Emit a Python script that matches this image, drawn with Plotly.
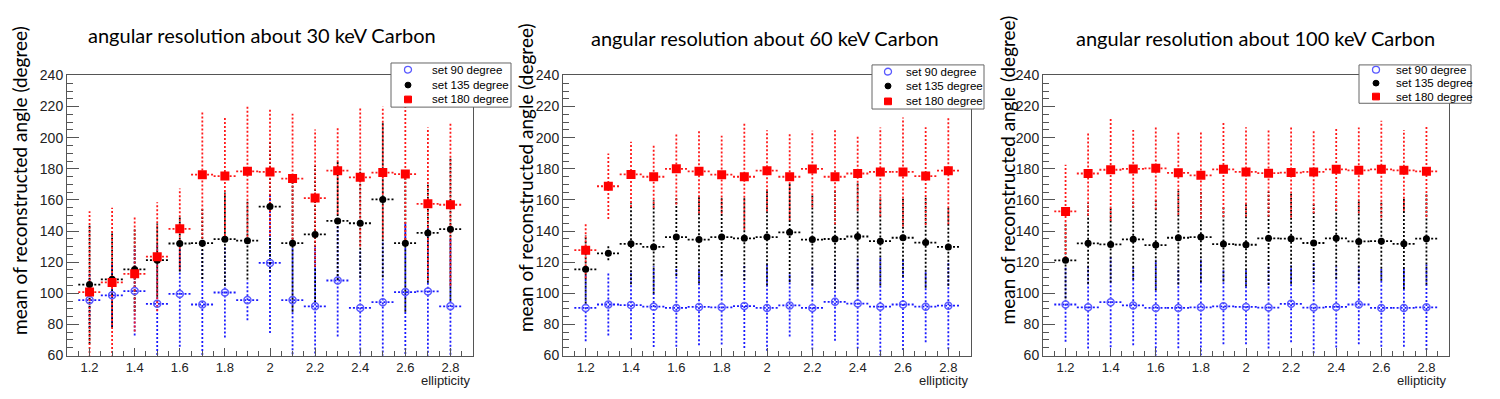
import plotly.graph_objects as go

# ellipticity bins, same for all three panels
ellipticity = [1.2, 1.3, 1.4, 1.5, 1.6, 1.7, 1.8, 1.9, 2.0, 2.1, 2.2, 2.3, 2.4, 2.5, 2.6, 2.7, 2.8]
XERR = 0.05

# 30 keV Carbon
mean90_30 = [95.6, 98.7, 101.4, 93.2, 99.6, 92.8, 100.5, 95.6, 119.5, 95.6, 91.6, 108.2, 90.6, 94.3, 100.8, 101.2, 91.6]
err90_30 = [18, 20, 28.5, 38, 34, 35, 29, 13, 45, 40, 38, 36, 37, 40, 45, 42, 44]
mean135_30 = [105.6, 109, 115.3, 121.3, 132, 132.2, 134.8, 133.8, 155.7, 132.2, 137.8, 146.5, 145, 160.3, 132.2, 138.8, 141.2]
err135_30 = [38, 31, 27, 23.5, 18, 23, 30, 25, 42, 44, 44, 38, 35, 50, 44, 32, 46]
mean180_30 = [100.8, 107, 112.5, 123.5, 141.4, 176.2, 175.3, 178.4, 178, 173.7, 161.2, 178.8, 174.5, 177.6, 176.6, 157.5, 156.9]
err180_30 = [52, 48, 37, 35, 26, 41, 38.5, 42, 41, 41.7, 44, 28, 44.5, 42.5, 45, 49, 52]

# 60 keV Carbon
mean90_60 = [90.6, 92.8, 92.4, 91.4, 90.6, 91.2, 91, 91.8, 90.6, 92.2, 90.6, 94.5, 93.4, 91.4, 92.8, 91.4, 92]
err90_60 = [21.5, 20, 22, 26, 25, 24.6, 24, 27, 27.6, 20, 26.7, 25, 29, 31.5, 29.3, 22.8, 28]
mean135_60 = [115.4, 125.7, 131.8, 129.8, 136.1, 134.5, 136.1, 135.3, 136.1, 139.2, 134.5, 134.9, 136.5, 133.5, 135.7, 132.6, 129.8]
err135_60 = [22, 4.5, 26, 30, 25, 28, 25, 27, 31, 32, 29.5, 32, 34, 28.5, 25, 29, 25]
mean180_60 = [127.7, 168.8, 176.4, 174.9, 180, 178.4, 176.2, 174.9, 178.8, 174.9, 179.9, 174.9, 177, 178, 178, 175.3, 178.8]
err180_60 = [18, 21, 21, 20, 23, 27, 25, 34, 26, 28, 24.6, 30.6, 24, 28.5, 35, 31.4, 34.5]

# 100 keV Carbon
mean90_100 = [92.8, 91, 94.3, 92.2, 90.6, 90.6, 91, 91.6, 91.2, 90.8, 93.2, 90.8, 91.2, 92.8, 90.6, 90.6, 91]
err90_100 = [24, 26.5, 29, 25.6, 31, 26, 31, 24.4, 24, 26.3, 24.6, 29.4, 26, 25.6, 25, 25, 27.5]
mean135_100 = [121.2, 132.1, 131.4, 134.7, 131, 135.7, 136.1, 131.6, 131.2, 135.3, 135.1, 132.3, 135.3, 133.3, 133.5, 131.8, 135.1]
err135_100 = [24.5, 26, 24.5, 26, 29, 30, 29, 24, 26.7, 30, 29, 25, 26, 27, 25.5, 29, 29.4]
mean180_100 = [152.6, 177, 179.4, 179.9, 180.3, 177.4, 175.8, 179.7, 178, 177.2, 177.6, 178, 179.7, 179, 179.7, 179, 178.4]
err180_100 = [30, 27, 33, 25, 26.5, 27, 27.7, 30.6, 28.7, 27.9, 28.9, 26.5, 26.8, 27.5, 31.2, 26, 29.4]

titles = ["angular resolution about 30 keV Carbon",
          "angular resolution about 60 keV Carbon",
          "angular resolution about 100 keV Carbon"]
panels = [
    [(mean90_30, err90_30), (mean135_30, err135_30), (mean180_30, err180_30)],
    [(mean90_60, err90_60), (mean135_60, err135_60), (mean180_60, err180_60)],
    [(mean90_100, err90_100), (mean135_100, err135_100), (mean180_100, err180_100)],
]
set_names = ["set 90 degree", "set 135 degree", "set 180 degree"]
bar_colors = ["#1a1aff", "black", "#ff1a1a"]
markers = [
    dict(symbol="circle-open", size=7, color="#5a5aff", line=dict(width=1.5, color="#5a5aff")),
    dict(symbol="circle", size=7, color="black"),
    dict(symbol="square", size=9, color="#ff0000"),
]

W, H = 1500, 399
OFF = 8  # default body margin of the page
FW, FH = W - 2 * OFF, H - OFF

# pixel geometry (page coordinates) of the three frames
frames_x = [(67, 473), (563, 971), (1043, 1449)]
frame_top, frame_bot = 70, 362
# legend boxes: (left, right, top, bottom), marker x, text x, row y's
legend_boxes = [(391, 511, 57, 103), (872, 984, 59, 105), (1359, 1471, 59, 99)]
legend_marker_x = [408, 888, 1376]
legend_text_x = [430, 904, 1394]
legend_rows = [(64, 80, 95), (66, 81, 97), (64, 78, 92)]
ytitle_pos = [(20, 180), (525, 177), (1007, 169)]
title_pos = [(262, 28), (765, 31), (1255, 31)]


def px(x):
    return (x - OFF) / FW


def py(y):
    return 1 - (y - OFF) / FH


fig = go.Figure()

for p, series in enumerate(panels):
    xa = "x" if p == 0 else f"x{p + 1}"
    ya = "y" if p == 0 else f"y{p + 1}"
    for s, (mean, err) in enumerate(series):
        # dotted error bars built from the data
        ex, ey = [], []
        for xv, m, e in zip(ellipticity, mean, err):
            ex += [xv, xv, None, xv - XERR, xv + XERR, None]
            ey += [m - e, m + e, None, m, m, None]
        fig.add_trace(go.Scatter(x=ex, y=ey, mode="lines", xaxis=xa, yaxis=ya,
                                 line=dict(color=bar_colors[s], width=1.8, dash="2px,2px"),
                                 showlegend=False, hoverinfo="skip"))
    for s, (mean, err) in enumerate(series):
        fig.add_trace(go.Scatter(x=ellipticity, y=mean, mode="markers", xaxis=xa, yaxis=ya,
                                 marker=markers[s], name=set_names[s], showlegend=False))

axis_font = dict(family="Liberation Sans, Arial, sans-serif", size=13, color="#222")
layout = dict(
    width=FW, height=FH,
    margin=dict(l=0, r=0, t=0, b=0),
    paper_bgcolor="white", plot_bgcolor="white",
    showlegend=False,
    annotations=[], shapes=[],
)

for p in range(3):
    sfx = "" if p == 0 else str(p + 1)
    x0, x1 = frames_x[p]
    layout["xaxis" + sfx] = dict(
        domain=[px(x0), px(x1)], range=[1.1, 2.9], anchor="y" + sfx,
        tickmode="array", tickvals=[1.2, 1.4, 1.6, 1.8, 2.0, 2.2, 2.4, 2.6, 2.8],
        ticktext=["1.2", "1.4", "1.6", "1.8", "2", "2.2", "2.4", "2.6", "2.8"],
        ticks="inside", ticklen=8, tickcolor="#555", tickwidth=1,
        minor=dict(dtick=0.05, tick0=1.1, ticks="inside", ticklen=5, tickcolor="#555"),
        showline=True, linecolor="#555", linewidth=1, mirror=True,
        showgrid=False, zeroline=False, tickfont=axis_font,
    )
    layout["yaxis" + sfx] = dict(
        domain=[py(frame_bot), py(frame_top)], range=[60, 240], anchor="x" + sfx,
        tickmode="linear", tick0=60, dtick=20,
        ticks="inside", ticklen=12, tickcolor="#555", tickwidth=1,
        minor=dict(dtick=5, ticks="inside", ticklen=6, tickcolor="#555"),
        showline=True, linecolor="#555", linewidth=1, mirror=True,
        showgrid=False, zeroline=False, tickfont=dict(axis_font, size=14),
    )

    # legend box drawn by hand (ROOT style, compact rows)
    bl, br, bt, bb = legend_boxes[p]
    layout["shapes"].append(dict(type="rect", xref="paper", yref="paper",
                                 x0=px(bl), x1=px(br), y0=py(bb), y1=py(bt),
                                 line=dict(color="#666", width=1), fillcolor="white"))
    mx = legend_marker_x[p]
    r0, r1, r2 = legend_rows[p]
    layout["shapes"].append(dict(type="circle", xref="paper", yref="paper",
                                 x0=px(mx - 3.5), x1=px(mx + 3.5), y0=py(r0 + 3.5), y1=py(r0 - 3.5),
                                 line=dict(color="#5a5aff", width=1.3)))
    layout["shapes"].append(dict(type="circle", xref="paper", yref="paper",
                                 x0=px(mx - 3), x1=px(mx + 3), y0=py(r1 + 3), y1=py(r1 - 3),
                                 line=dict(color="black", width=1), fillcolor="black"))
    layout["shapes"].append(dict(type="rect", xref="paper", yref="paper",
                                 x0=px(mx - 3.5), x1=px(mx + 3.5), y0=py(r2 + 3.5), y1=py(r2 - 3.5),
                                 line=dict(color="#ff0000", width=1), fillcolor="#ff0000"))
    for name, ry in zip(set_names, legend_rows[p]):
        layout["annotations"].append(dict(
            text=name, x=px(legend_text_x[p]), y=py(ry), xref="paper", yref="paper",
            xanchor="left", yanchor="middle", showarrow=False,
            font=dict(family="Liberation Sans, Arial, sans-serif", size=11.5, color="black")))

    tx, ty = title_pos[p]
    layout["annotations"].append(dict(
        text=titles[p], x=px(tx), y=py(ty), xref="paper", yref="paper",
        xanchor="center", yanchor="middle", showarrow=False,
        font=dict(family="Lato, Open Sans, sans-serif", size=20, color="black")))
    yx, yy = ytitle_pos[p]
    layout["annotations"].append(dict(
        text="mean of reconstructed angle (degree)", x=px(yx), y=py(yy),
        xref="paper", yref="paper", xanchor="center", yanchor="middle",
        textangle=-90, showarrow=False,
        font=dict(family="Lato, Open Sans, sans-serif", size=19, color="black")))
    layout["annotations"].append(dict(
        text="ellipticity", x=px(x1), y=py(388), xref="paper", yref="paper",
        xanchor="right", yanchor="middle", showarrow=False,
        font=dict(family="Liberation Sans, Arial, sans-serif", size=13, color="#222")))

fig.update_layout(**layout)
fig.write_html("out.html")
